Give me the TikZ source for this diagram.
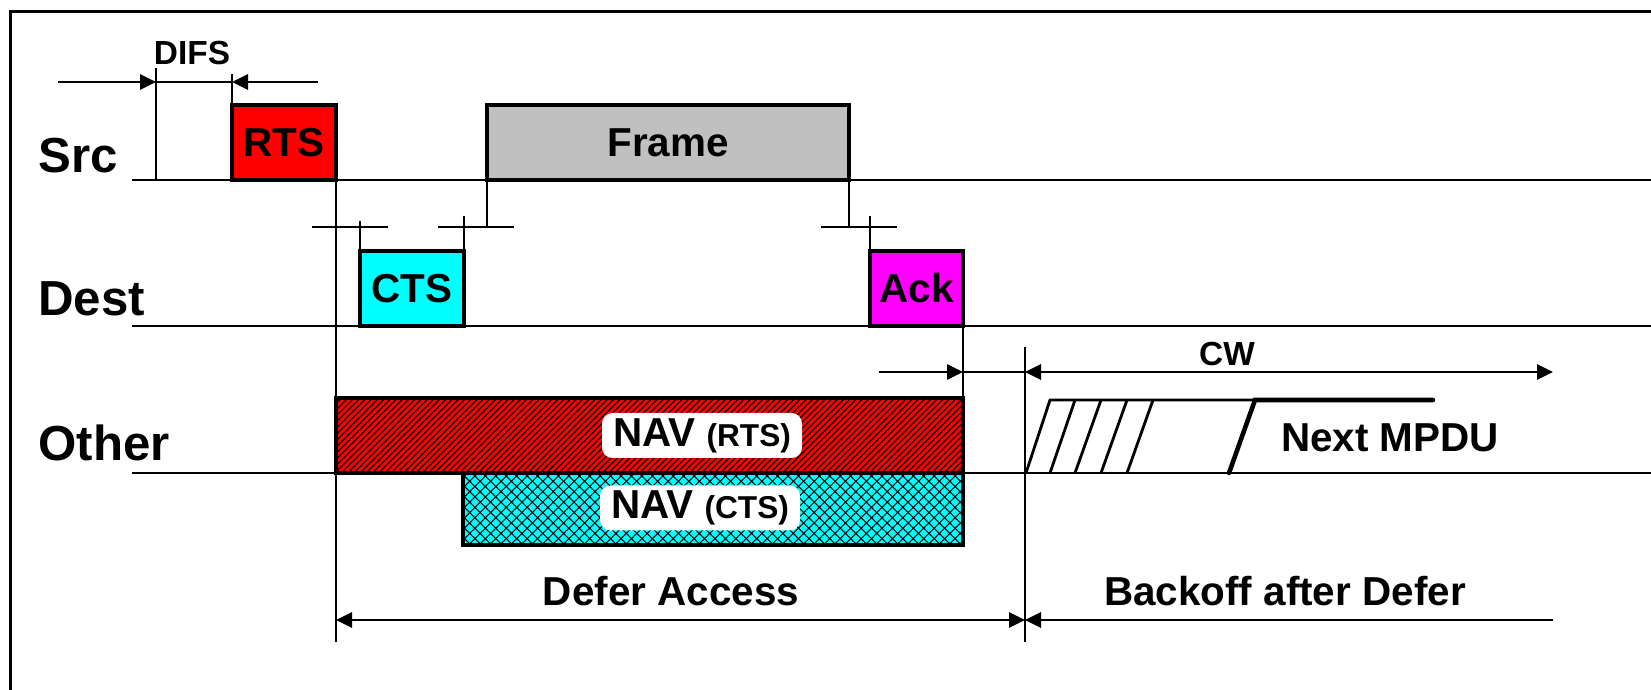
\documentclass[tikz,border=0pt]{standalone}
\usepackage{xcolor}
\usepackage{fontspec}
\setmainfont{Liberation Sans}
\usepackage{tikz}
\usetikzlibrary{arrows.meta,patterns.meta}

\definecolor{framegray}{RGB}{192,192,192}
\definecolor{rtsred}{RGB}{255,0,0}
\definecolor{ctscyan}{RGB}{0,255,255}
\definecolor{ackmagenta}{RGB}{255,0,255}

\begin{document}
\begin{tikzpicture}[
    x=1cm,y=1cm,
    >={Triangle[length=0.16cm,width=0.15cm]},
    line width=0.8pt,
    pkt/.style={
        draw,
        line width=1.4pt,
        inner sep=0pt,
        outer sep=0pt,
        minimum height=0.75cm,
        font=\fontsize{11.5}{13}\selectfont\bfseries
    },
    station/.style={
        anchor=base west,
        inner sep=0pt,
        font=\fontsize{14}{16}\selectfont\bfseries
    },
    smalltxt/.style={font=\fontsize{9.5}{11}\selectfont\bfseries},
    spantxt/.style={font=\fontsize{11.5}{13}\selectfont\bfseries},
    navbar/.style={
        draw,
        line width=0.9pt,
        inner sep=0pt,
        outer sep=0pt,
        anchor=south west
    },
    navlbl/.style={
        fill=white,
        rounded corners=3pt,
        inner sep=0pt,
        minimum width=2.0cm,
        minimum height=0.45cm,
        font=\fontsize{11.5}{13}\selectfont\bfseries
    }
]
\useasboundingbox (0,0) rectangle (16.51,6.90);

\draw[line width=1pt] (0.105,0) -- (0.105,6.785) -- (16.51,6.785);

\node[station] (src)   at (0.37,5.17) {Src};
\node[station] (dest)  at (0.37,3.74) {Dest};
\node[station] (other) at (0.37,2.29) {Other};

\draw (1.32,5.10) -- (16.51,5.10);
\draw (1.32,3.64) -- (16.51,3.64);
\draw (1.32,2.17) -- (16.51,2.17);

\node[navbar, fill=rtsred,
    postaction={pattern={Lines[angle=45,distance=1.25pt,line width=0.35pt]}},
    minimum width=6.27cm, minimum height=0.75cm] (navrts) at (3.36,2.17) {};
\node[navbar, fill=ctscyan,
    postaction={pattern={Hatch[angle=45,distance=2.1pt,line width=0.3pt]}},
    minimum width=5.0cm, minimum height=0.72cm] (navcts) at (4.63,1.45) {};
\node[navlbl] (navrtsl) at (7.02,2.545) {NAV {\fontsize{9}{10}\selectfont (RTS)}};
\node[navlbl] (navctsl) at (7.00,1.82) {NAV {\fontsize{9}{10}\selectfont (CTS)}};

\node[pkt, fill=rtsred, minimum width=1.04cm]     (rts)   at (2.84,5.475) {RTS};
\node[pkt, fill=framegray, minimum width=3.62cm]  (frame) at (6.68,5.475) {Frame};
\node[pkt, fill=ctscyan, minimum width=1.04cm]    (cts)   at (4.12,4.015) {CTS};
\node[pkt, fill=ackmagenta, minimum width=0.93cm] (ack)   at (9.165,4.015) {Ack};

\coordinate (tickrow) at (0,4.63);
\coordinate (bottom)  at (0,0.48);

\coordinate (difsA) at (1.56,6.08);
\coordinate (difsB) at (rts.north west |- difsA);
\node[smalltxt] (difs) at (1.92,6.37) {DIFS};
\draw (1.56,6.22) -- (1.56,5.10);
\draw (rts.north west) -- ++(0,0.31);
\draw[->] (0.58,6.08) -- (difsA);
\draw (difsA) -- (difsB);
\draw[->] (3.18,6.08) -- (difsB);

\draw (rts.south east) -- (rts.south east |- bottom);
\draw (10.25,3.43) -- (10.25,0.48);
\draw (ack.south east) -- ++(0,-1.20);

\draw (3.12,4.63) -- (3.88,4.63);
\draw (cts.north west) -- ++(0,0.30);
\draw (4.38,4.63) -- (5.14,4.63);
\draw (cts.north east) -- ++(0,0.35);
\draw (frame.south west) -- (frame.south west |- tickrow);
\draw (8.21,4.63) -- (8.97,4.63);
\draw (frame.south east) -- (frame.south east |- tickrow);
\draw (ack.north west) -- ++(0,0.35);

\coordinate (sifsEnd) at (ack.south east |- 0,3.18);
\coordinate (cwStart) at (10.25,3.18);
\draw[->] (8.79,3.18) -- (sifsEnd);
\draw (sifsEnd) -- (cwStart);
\draw[<->] (cwStart) -- (15.53,3.18);
\node[smalltxt] (cw) at (12.27,3.36) {CW};

\draw (10.26,2.17) -- (10.50,2.90) -- (12.55,2.90)
      (10.50,2.17) -- (10.75,2.90)
      (10.75,2.17) -- (11.01,2.90)
      (11.01,2.17) -- (11.27,2.90)
      (11.27,2.17) -- (11.53,2.90);
\draw[line width=1.3pt, line cap=round] (12.29,2.17) -- (12.55,2.90) -- (14.33,2.90);
\node[spantxt] (mpdu) at (13.90,2.52) {Next MPDU};

\coordinate (deferL) at (rts.south east |- 0,0.70);
\coordinate (deferR) at (10.25,0.70);
\draw[<->] (deferL) -- (deferR);
\node[spantxt] (defer) at (6.71,0.99) {Defer Access};
\draw[<-] (deferR) -- (15.53,0.70);
\node[spantxt] (backoff) at (12.85,0.99) {Backoff after Defer};

\end{tikzpicture}
\end{document}
